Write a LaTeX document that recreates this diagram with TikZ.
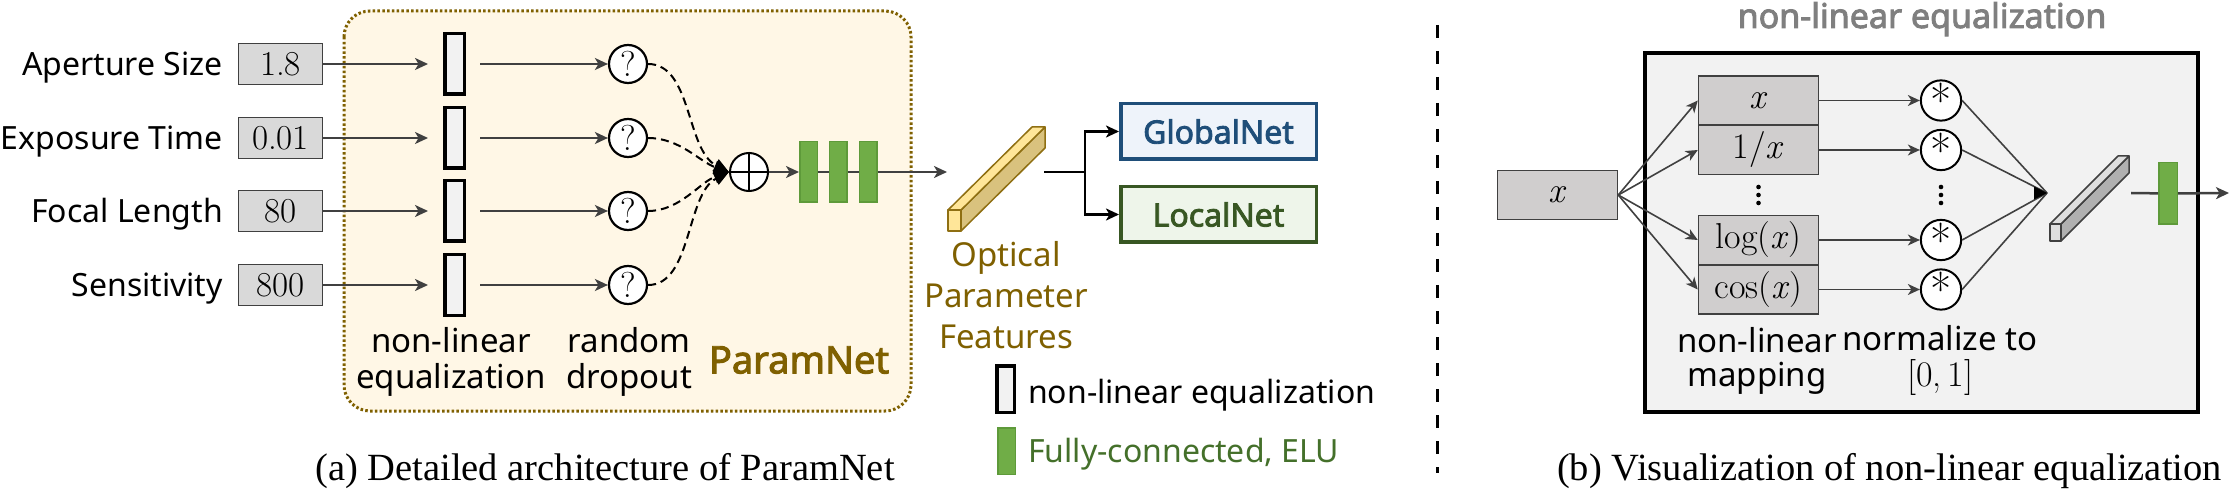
\documentclass[tikz,border=0pt]{standalone}
\usepackage{fontspec}
\newfontfamily\mylab{Noto Sans}
\newfontfamily\mylabbold{Noto Sans}[FakeBold=2.6]
\newfontfamily\mycapf{Liberation Serif}
\usetikzlibrary{arrows.meta,calc}
\newcommand\mylabfont{\mylab\fontsize{32}{36}\selectfont}
\newcommand\mynumfont{\rmfamily\fontsize{35}{40}\selectfont}
\newcommand\mymathsz{\rmfamily\fontsize{36}{40}\selectfont}
\newcommand\mycapfont{\mycapf\fontsize{38.5}{46}\selectfont}
\newcommand\myvar{\textit{x}}
\definecolor{pnfill}{HTML}{FFF7E6}
\definecolor{pnbrown}{HTML}{7F6000}
\definecolor{valgray}{HTML}{D9D9D9}
\definecolor{darkg}{HTML}{404040}
\definecolor{eqfill}{HTML}{F2F2F2}
\definecolor{fcgreen}{HTML}{70AD47}
\definecolor{fcborder}{HTML}{5E9A3A}
\definecolor{gnblue}{HTML}{1F4E79}
\definecolor{gnfill}{HTML}{EEF3FA}
\definecolor{lngreen}{HTML}{385723}
\definecolor{lnfill}{HTML}{EEF5EA}
\definecolor{legreen}{HTML}{44702A}
\definecolor{yellowtop}{HTML}{FFE699}
\definecolor{yellowside}{HTML}{D9C27E}
\definecolor{yellowedge}{HTML}{8F6F12}
\definecolor{mapgray}{HTML}{D0CECE}
\definecolor{boxgray}{HTML}{F2F2F2}
\definecolor{titlegray}{HTML}{7F7F7F}
\definecolor{prismtop}{HTML}{DEDEDE}
\definecolor{prismside}{HTML}{B0B0B0}
\begin{document}
\begin{tikzpicture}[x=1pt,y=-1pt,
  lbl/.style={font=\mylabfont, inner sep=0pt},
  valbox/.style={draw=darkg, line width=1.5pt, fill=valgray, minimum width=84pt, minimum height=41pt, inner sep=0pt, font=\mynumfont},
  eqbar/.style={draw=black, line width=3.5pt, fill=eqfill, minimum width=19.5pt, minimum height=60.5pt, inner sep=0pt},
  qcirc/.style={circle, draw=black, line width=2.2pt, fill=white, minimum size=38pt, inner sep=0pt, font=\rmfamily\fontsize{36}{38}\selectfont},
  fcbar/.style={draw=fcborder, line width=1.5pt, fill=fcgreen, minimum width=17.5pt, minimum height=60.5pt, inner sep=0pt},
  garrow/.style={draw=darkg, line width=2pt, -{Stealth[length=13pt,width=12pt,inset=3.5pt]}},
  garrowthin/.style={draw=darkg, line width=1.6pt, -{Stealth[length=12pt,width=11pt,inset=3.5pt]}},
  dashline/.style={draw=black, line width=2pt, dash pattern=on 8pt off 5pt, -{Triangle[length=15pt,width=13pt]}},
  blkline/.style={draw=black, line width=2.5pt},
  blkarrow/.style={draw=black, line width=2.5pt, -{Stealth[length=13pt,width=12pt,inset=3.5pt]}},
  netbox/.style={line width=3.5pt, minimum width=195.5pt, minimum height=55.5pt, inner sep=0pt, font=\mylabbold\fontsize{32}{36}\selectfont},
  mapbox/.style={draw=darkg, line width=1.5pt, fill=mapgray, minimum width=120pt, minimum height=49pt, inner sep=0pt, font=\mymathsz},
  astc/.style={circle, draw=black, line width=2pt, fill=white, minimum size=39pt, inner sep=0pt, font=\rmfamily\fontsize{46}{46}\selectfont},
  prism/.style={line width=1.5pt, line join=round},
]
\useasboundingbox (0,0) rectangle (2232,494);
\fill[white] (0,0) rectangle (2232,494);

% ---------------- (a) ParamNet ----------------
\draw[pnbrown, line width=3pt, dash pattern=on 2.5pt off 2.3pt, fill=pnfill, rounded corners=26pt] (344,11) rectangle (911,411);

\foreach \i/\t/\v/\y in {1/Aperture Size/1.8/64, 2/Exposure Time/0.01/138, 3/Focal Length/80/211, 4/Sensitivity/800/285} {
  \node[lbl, anchor=base east] (lab\i) at (223,\y+12) {\t};
  \node[valbox] (val\i) at (280.5,\y) {\v};
  \node[eqbar] (eq\i) at (454.5,\y) {};
  \node[qcirc] (q\i) at (628,\y) {?};
  \draw[garrow, shorten >=15pt] (val\i) -- (eq\i);
  \draw[garrow, shorten <=14pt] (eq\i) -- (q\i);
}

\node[circle, draw=black, line width=2pt, fill=white, minimum size=38pt, inner sep=0pt] (plus) at (749,172) {};
\draw[line width=2pt] (plus.north) -- (plus.south) (plus.west) -- (plus.east);

\draw[dashline] (q1.east) .. controls (692,64) and (686,150) .. (plus.west);
\draw[dashline] (q2.east) .. controls (680,138) and (700,162) .. (plus.west);
\draw[dashline] (q3.east) .. controls (680,211) and (700,182) .. (plus.west);
\draw[dashline] (q4.east) .. controls (692,285) and (686,194) .. (plus.west);

\node[fcbar] (fc1) at (808.5,172) {};
\node[fcbar] (fc2) at (838,172) {};
\node[fcbar] (fc3) at (868,172) {};
\draw[garrow] (plus) -- (fc1);
\draw[darkg, line width=2pt] (fc1) -- (fc2) (fc2) -- (fc3);
\coordinate (pout) at (947,172);
\draw[garrow] (fc3) -- (pout);

\node[lbl, align=center, font=\mylab\fontsize{33}{35.5}\selectfont] (nleq) at (451,362) {non-linear\\equalization};
\node[lbl, align=center, font=\mylab\fontsize{33}{35.5}\selectfont] (rdrop) at (629,362) {random\\dropout};
\node[font=\mylabbold\fontsize{38}{44}\selectfont, text=pnbrown, inner sep=0pt] (pn) at (799,360) {ParamNet};

% yellow prism (optical parameter features)
\filldraw[prism, draw=yellowedge, fill=yellowside] (961,210) -- (1045,127) -- (1045,148) -- (961,231) -- cycle;
\filldraw[prism, draw=yellowedge, fill=yellowtop] (948,210) -- (1032,127) -- (1045,127) -- (961,210) -- cycle;
\filldraw[prism, draw=yellowedge, fill=yellowtop] (948,210) rectangle (961,231);

\node[lbl, align=center, text=pnbrown, font=\mylab\fontsize{33}{41}\selectfont] (opt) at (1006,295) {Optical\\Parameter\\Features};

\node[netbox, draw=gnblue, fill=gnfill, text=gnblue] (gn) at (1218.5,131.5) {GlobalNet};
\node[netbox, draw=lngreen, fill=lnfill, text=lngreen] (ln) at (1218.5,214.5) {LocalNet};
\coordinate (feat) at (1044,172);
\coordinate (br) at (1085,172);
\draw[blkline] (feat) -- (br);
\draw[blkarrow] (br) |- (gn.west);
\draw[blkarrow] (br) |- (ln.west);

% legend
\node[eqbar, minimum width=17.5pt, minimum height=46.5pt] (legeq) at (1005.5,389) {};
\node[lbl, anchor=base west] (legeqt) at (1028,403) {non-linear equalization};
\node[fcbar, minimum width=17.5pt, minimum height=46.5pt] (legfc) at (1006.5,451) {};
\node[lbl, anchor=base west, text=legreen] (legfct) at (1028,462) {Fully-connected, ELU};

\node[font=\mycapfont, anchor=base, inner sep=0pt] (capa) at (605,480) {(a) Detailed architecture of ParamNet};

% divider
\draw[black, line width=3pt, dash pattern=on 13pt off 13pt] (1437,25) -- (1437,473);

% ---------------- (b) non-linear equalization ----------------
\node[font=\mylabbold\fontsize{34}{40}\selectfont, text=titlegray, anchor=base, inner sep=0pt] (ttl) at (1922,28) {non-linear equalization};
\draw[line width=3.5pt, fill=boxgray] (1645,53) rectangle (2198,412);

\node[mapbox] (xin) at (1557.5,195) {\myvar};
\node[mapbox] (m1) at (1758.5,100.5) {\myvar};
\node[mapbox] (m2) at (1758.5,150) {1/\myvar};
\node[mapbox] (m3) at (1758.5,240) {log(\myvar)};
\node[mapbox] (m4) at (1758.5,289.5) {cos(\myvar)};
\foreach \k in {1,2,3,4} {
  \draw[garrowthin] (xin.east) -- (m\k.west);
}
\node[astc] (s1) at (1941,100.5) {\raisebox{-0.32em}{*}};
\node[astc] (s2) at (1941,150) {\raisebox{-0.32em}{*}};
\node[astc] (s3) at (1941,240) {\raisebox{-0.32em}{*}};
\node[astc] (s4) at (1941,289.5) {\raisebox{-0.32em}{*}};
\foreach \k in {1,2,3,4} {
  \draw[garrowthin] (m\k.east) -- (s\k.west);
}
\foreach \yy in {187,195,203} {
  \fill (1758.5,\yy) circle (2.3pt);
  \fill (1941,\yy) circle (2.3pt);
}
\coordinate (mtip) at (2047,193);
\foreach \k in {1,2,3,4} {
  \draw[darkg, line width=1.6pt] (s\k.east) -- (mtip);
}
\fill[black] (mtip) -- ++(-13,-6.5) -- ++(0,13) -- cycle;

% gray prism
\filldraw[prism, draw=darkg, fill=prismside] (2061,224) -- (2129,156) -- (2129,173) -- (2061,241) -- cycle;
\filldraw[prism, draw=darkg, fill=prismtop] (2050,224) -- (2118,156) -- (2129,156) -- (2061,224) -- cycle;
\filldraw[prism, draw=darkg, fill=prismtop] (2050,224) rectangle (2061,241);

\coordinate (gout) at (2131,193);
\node[fcbar, minimum width=18.5pt, minimum height=61.5pt] (fcb) at (2168,193.5) {};
\draw[darkg, line width=2.5pt] (gout) -- (fcb);
\coordinate (bend) at (2229,193);
\draw[garrow, line width=2.5pt] (fcb) -- (bend);

\node[lbl, align=center, font=\mylab\fontsize{33}{34}\selectfont] (nlmap) at (1757,361) {non-linear\\mapping};
\node[lbl, align=center, font=\mylab\fontsize{33}{36}\selectfont] (norm) at (1940,360) {normalize to\\{\mymathsz [0,\,1]}};

\node[font=\mycapfont, anchor=base, inner sep=0pt] (capb) at (1889.5,480) {(b) Visualization of non-linear equalization};
\end{tikzpicture}
\end{document}
